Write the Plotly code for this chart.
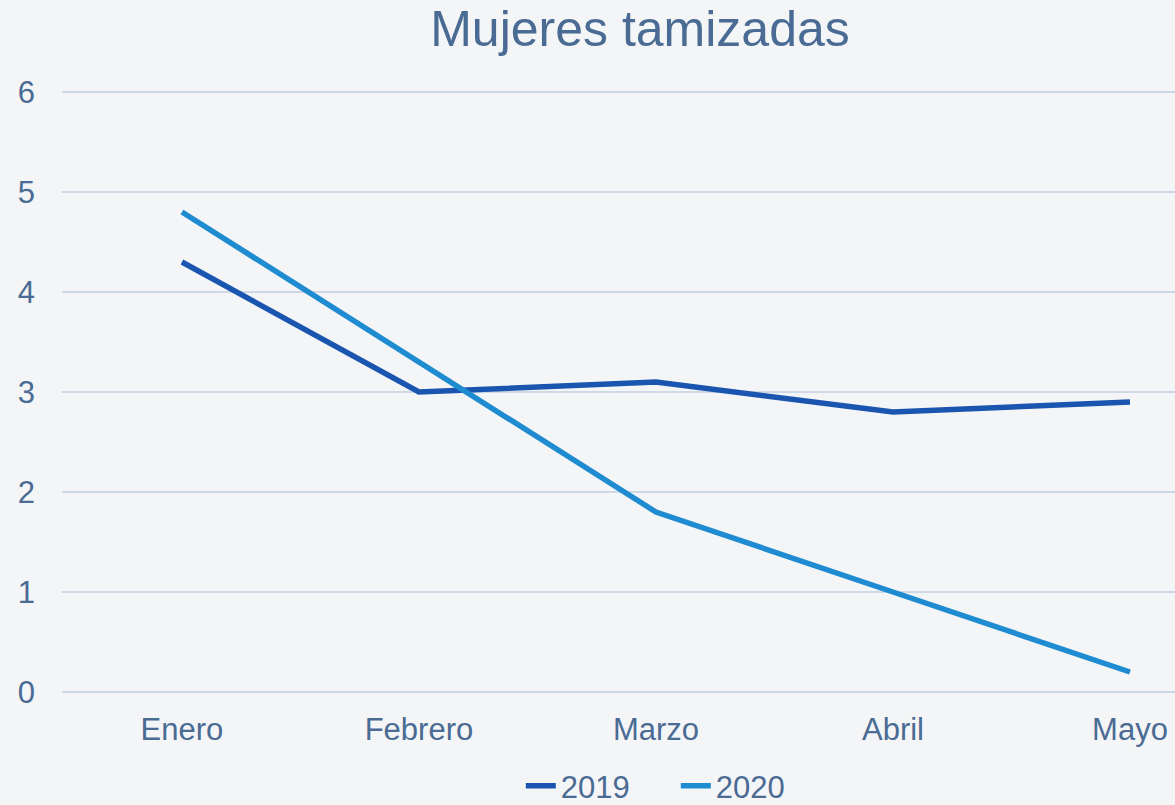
import plotly.graph_objects as go

months = ["Enero", "Febrero", "Marzo", "Abril", "Mayo"]
s2019 = [4.3, 3.0, 3.1, 2.8, 2.9]
s2020 = [4.8, 3.3, 1.8, 1.0, 0.2]

text_color = "#4a6b93"
fig = go.Figure()
fig.add_trace(go.Scatter(x=months, y=s2019, name="2019", mode="lines",
                         line=dict(color="#1a55b0", width=5.5)))
fig.add_trace(go.Scatter(x=months, y=s2020, name="2020", mode="lines",
                         line=dict(color="#1f8bd0", width=5.5)))

fig.update_layout(
    width=1175, height=805,
    margin=dict(l=62, r=0, t=90, b=111),
    paper_bgcolor="#f4f5f7", plot_bgcolor="rgba(0,0,0,0)",
    font=dict(family="Liberation Sans, Arial, sans-serif", color=text_color, size=31),
    title=dict(text="Mujeres tamizadas", x=640/1175, xanchor="center",
               y=1-28/805, yanchor="middle", yref="container",
               font=dict(size=50, color=text_color)),
    legend=dict(orientation="h", x=648/1175, xanchor="center",
                y=1-786/805, yanchor="middle", yref="container",
                entrywidth=110,
                font=dict(size=31, color=text_color), bgcolor="rgba(0,0,0,0)"),
    xaxis=dict(range=[-0.506, 4.19], showgrid=False, showline=False, zeroline=False,
               ticks="", ticklabelstandoff=14, tickfont=dict(size=31, color=text_color)),
    yaxis=dict(range=[-0.02, 6.02], dtick=1, tick0=0, showgrid=True, gridcolor="#cfd9e6",
               gridwidth=1.5, showline=False, zeroline=False, ticks="", ticklabelstandoff=26,
               tickfont=dict(size=31, color=text_color)),
)
fig.write_html("out.html", config={"displayModeBar": False},
               post_script="document.body.style.margin='0';document.body.style.overflow='hidden';")
